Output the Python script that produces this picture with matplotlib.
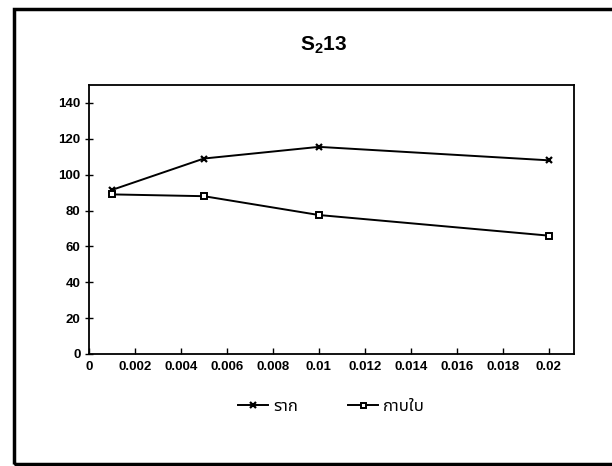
import matplotlib
matplotlib.use("Agg")
import matplotlib.pyplot as plt
from matplotlib.patches import Rectangle
from matplotlib import font_manager

# -------------------------------
# DATA
# -------------------------------
conc = [0.001, 0.005, 0.01, 0.02]
root = [91.5, 109, 115.5, 108]      # ราก
sheath = [89, 88, 77.5, 66]         # กาบใบ
x_ticks = [0, 0.002, 0.004, 0.006, 0.008, 0.01, 0.012, 0.014, 0.016, 0.018, 0.02]
x_tick_labels = ["0", "0.002", "0.004", "0.006", "0.008", "0.01",
                 "0.012", "0.014", "0.016", "0.018", "0.02"]
y_ticks = [0, 20, 40, 60, 80, 100, 120, 140]
series_names = ["ราก", "กาบใบ"]

# pick a font that has Thai glyphs if one is installed
names = {f.name for f in font_manager.fontManager.ttflist}
thai_fonts = [n for n in ["Noto Sans Thai", "Noto Sans Thai UI", "Loma", "Garuda",
                          "Norasi", "Kinnari", "Sawasdee", "Waree", "Umpush",
                          "Tlwg Typo", "Noto Serif Thai", "FreeSans"] if n in names]
plt.rcParams["font.family"] = thai_fonts + ["DejaVu Sans"]
plt.rcParams["mathtext.fontset"] = "custom"
plt.rcParams["mathtext.bf"] = "Liberation Sans:bold"
plt.rcParams["mathtext.rm"] = "Liberation Sans:bold"

# -------------------------------
# PLOT
# -------------------------------
fig = plt.figure(figsize=(6.12, 4.66), dpi=100)
ax = fig.add_axes([89 / 612, 1 - 354 / 466, (574 - 89) / 612, (354 - 85) / 466])

ax.plot(conc, root, color="black", lw=1.4, marker="x", ms=5, mew=1.6,
        label=series_names[0])
ax.plot(conc, sheath, color="black", lw=1.4, marker="s", ms=4.5, mew=1.4,
        mfc="white", label=series_names[1])

ax.set_xlim(0, 0.0211)
ax.set_ylim(0, 150)
ax.set_xticks(x_ticks)
ax.set_xticklabels(x_tick_labels)
ax.set_yticks(y_ticks)
ax.tick_params(direction="in", length=4, width=1, labelsize=9.5, pad=5)
ax.tick_params(axis="y", direction="inout", length=6, pad=3)
for lbl in ax.get_xticklabels() + ax.get_yticklabels():
    lbl.set_family("Liberation Sans")
    lbl.set_weight("bold")
for s in ax.spines.values():
    s.set_linewidth(1.3)

ax.legend(loc="upper center", bbox_to_anchor=(0.5, -0.11), ncol=2, frameon=False,
          fontsize=12, handlelength=1.8, handletextpad=0.3, columnspacing=3,
          markerscale=0.8)

fig.text(324 / 612, 1 - 45 / 466, r"$\mathbf{S_2}$$\mathbf{13}$", ha="center",
         va="center", fontsize=15)

# outer frame of the scanned page
fig.patches.append(Rectangle((14 / 612, 1 - 464 / 466), 1.0, (464 - 9) / 466,
                             transform=fig.transFigure, fill=False,
                             edgecolor="black", linewidth=2.5))

fig.savefig("out.png", dpi=100)
